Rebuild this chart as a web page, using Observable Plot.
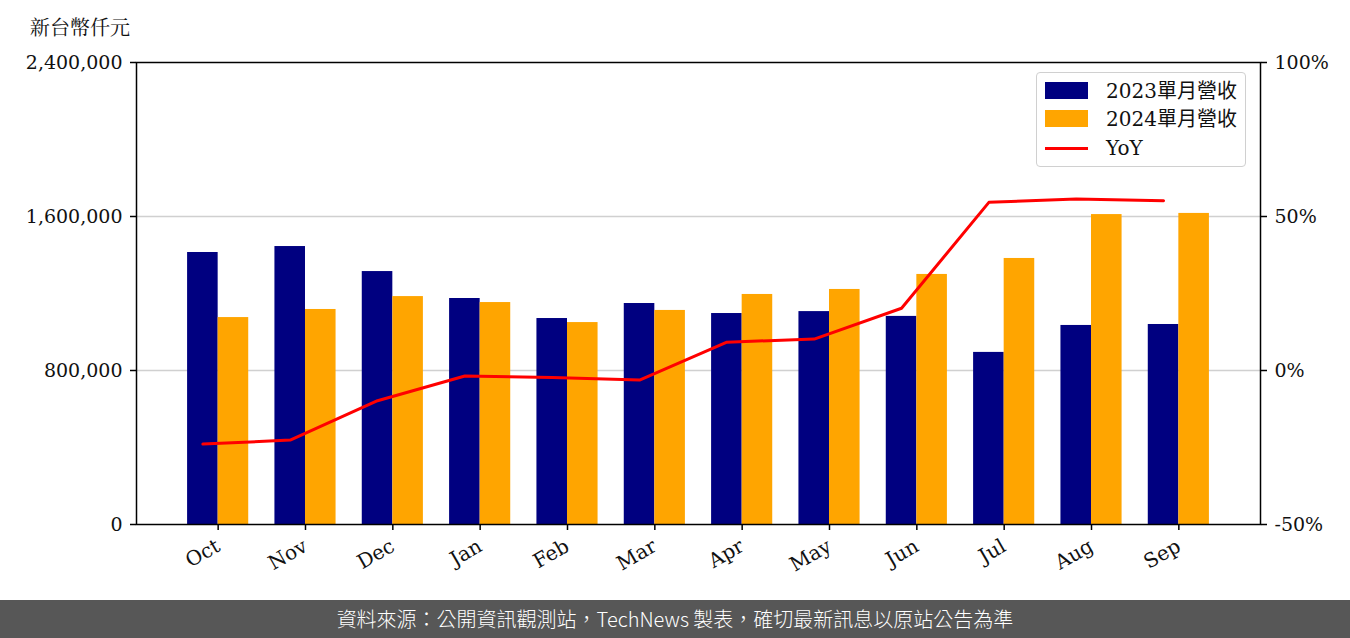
<!DOCTYPE html>
<html>
<head>
<meta charset="utf-8">
<script src="https://cdn.jsdelivr.net/npm/d3@7"></script>
<script src="https://cdn.jsdelivr.net/npm/@observablehq/plot@0.6"></script>
<style>
  html, body { margin: 0; padding: 0; background: #fff; }
  #wrap { position: relative; width: 1350px; height: 638px; overflow: hidden; }
  #title { height: 50px; box-sizing: border-box; padding: 15px 0 0 30px; font: 20px/24px "Noto Serif CJK TC", "DejaVu Serif", "Noto Sans CJK TC", serif; color: #111; }
  #chart svg { display: block; }
  #footer { position: absolute; left: 0; top: 600px; width: 1350px; height: 38px; background: #575757; color: #fff;
    font: 300 20px/38px "Noto Sans CJK TC", "Noto Sans", sans-serif; text-align: center; }
  #legend { position: absolute; left: 1036px; top: 72px; width: 210px; height: 95px; box-sizing: border-box;
    border: 1.5px solid #d0d0d0; border-radius: 4px; background: rgba(255,255,255,0.85);
    font: 20px "DejaVu Serif", "Noto Sans CJK TC", serif; color: #111; }
  .row { position: absolute; left: 0; height: 24px; }
  .sw { position: absolute; left: 8px; width: 43px; height: 17px; }
  .ln { position: absolute; left: 8px; width: 43px; height: 3px; background: #ff0000; }
  .lab { position: absolute; left: 69px; white-space: nowrap; line-height: 24px; top: 0; }
</style>
</head>
<body>
<div id="wrap">
  <div id="title">新台幣仟元</div>
  <div id="chart"></div>
  <div id="legend"></div>
  <div id="footer">資料來源：公開資訊觀測站，TechNews 製表，確切最新訊息以原站公告為準</div>
</div>
<script>
const months = ["Oct","Nov","Dec","Jan","Feb","Mar","Apr","May","Jun","Jul","Aug","Sep"];
const rev2023 = [1413000,1444000,1314000,1174000,1070000,1148000,1096000,1106000,1081000,894000,1034000,1039000];
const rev2024 = [1075000,1117000,1184000,1153000,1049000,1112000,1195000,1221000,1299000,1382000,1610000,1616000];
const yoy = [-23.9,-22.6,-9.8,-1.8,-2.3,-3.1,9.2,10.2,20.2,54.6,55.7,55.1];
const leftTicks = [0, 800000, 1600000, 2400000];
const rightTicks = [-50, 0, 50, 100];
const seriesNames = ["2023單月營收", "2024單月營收", "YoY"];
const colors = ["#000080", "#ffa500", "#ff0000"];

const yMax = 2400000;
const pctToY = p => (p + 50) / 150 * yMax;
const yToPct = v => Math.round(v / yMax * 150 - 50);

const data = months.map((m, i) => ({i, m, a: rev2023[i], b: rev2024[i], yoy: yoy[i]}));
const w = 0.35;

const chart = Plot.plot({
  width: 1350,
  height: 550,
  marginTop: 12,
  marginBottom: 76,
  marginLeft: 136,
  marginRight: 90,
  style: {fontFamily: "DejaVu Serif, serif", fontSize: "19px", color: "#111", background: "transparent"},
  x: {type: "linear", domain: [-0.935, 11.935]},
  y: {domain: [0, yMax]},
  marks: [
    Plot.gridY([800000, 1600000], {stroke: "#d0d0d0", strokeOpacity: 1, strokeWidth: 1.5}),
    Plot.rect(data, {x1: d => d.i - w, x2: d => d.i, y1: 0, y2: "a", fill: colors[0]}),
    Plot.rect(data, {x1: d => d.i, x2: d => d.i + w, y1: 0, y2: "b", fill: colors[1]}),
    Plot.line(data, {x: d => d.i - w / 2, y: d => pctToY(d.yoy), stroke: colors[2], strokeWidth: 3}),
    Plot.frame({stroke: "#000", strokeWidth: 1.5}),
    Plot.axisY(leftTicks, {anchor: "left", tickFormat: d3.format(","), tickSize: 6, tickPadding: 8, stroke: "#000", strokeWidth: 1.5, label: null}),
    Plot.axisY(rightTicks.map(pctToY), {anchor: "right", tickFormat: v => yToPct(v) + "%", tickSize: 6, tickPadding: 8, stroke: "#000", strokeWidth: 1.5, label: null}),
    Plot.axisX(d3.range(months.length), {tickFormat: i => months[i], tickRotate: -30, fontSize: 20, tickSize: 6, tickPadding: 14, stroke: "#000", strokeWidth: 1.5, label: null})
  ]
});
document.getElementById("chart").appendChild(chart);

const legend = document.getElementById("legend");
const rowTops = [6, 34, 63];
seriesNames.forEach((name, k) => {
  const row = document.createElement("div");
  row.className = "row";
  row.style.top = rowTops[k] + "px";
  row.style.width = "200px";
  const sw = document.createElement("div");
  if (k < 2) { sw.className = "sw"; sw.style.background = colors[k]; sw.style.top = "3px"; }
  else { sw.className = "ln"; sw.style.top = "11px"; }
  const lab = document.createElement("div");
  lab.className = "lab";
  lab.textContent = name;
  row.appendChild(sw);
  row.appendChild(lab);
  legend.appendChild(row);
});
</script>
</body>
</html>
